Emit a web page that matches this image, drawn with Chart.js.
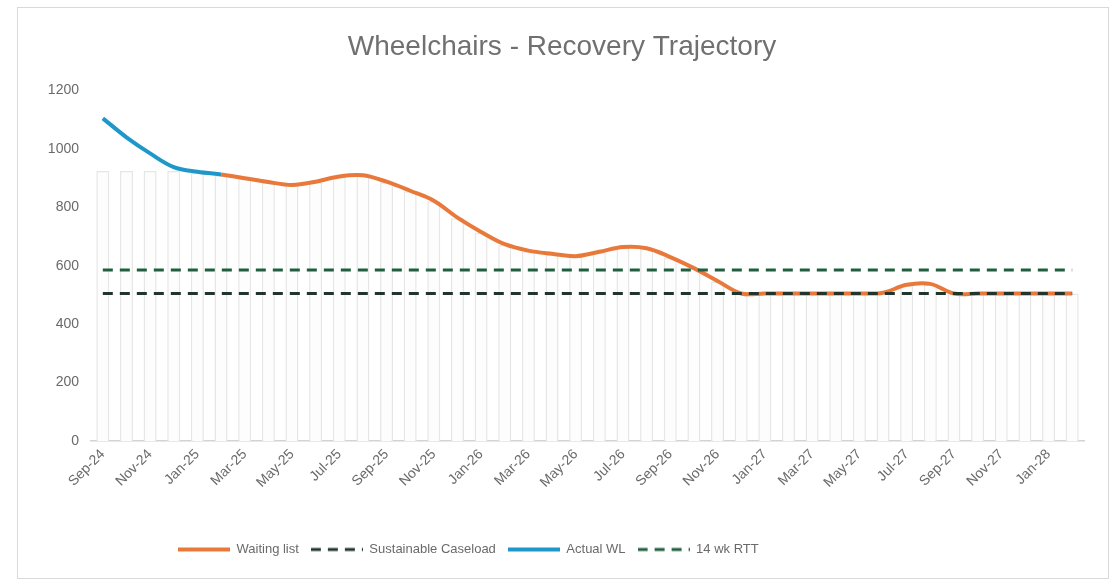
<!DOCTYPE html>
<html>
<head>
<meta charset="utf-8">
<title>Wheelchairs - Recovery Trajectory</title>
<script src="https://cdn.jsdelivr.net/npm/chart.js@4/dist/chart.umd.min.js"></script>
<style>
  html, body { margin: 0; padding: 0; background: #ffffff; }
  #frame { position: absolute; left: 17px; top: 7px; width: 1090px; height: 570px; border: 1px solid #d9d9d9; }
  canvas { display: block; }
</style>
</head>
<body>
<div id="frame"><canvas id="chart" width="1090" height="570"></canvas></div>
<script>
// Monthly categories, Sep-24 to Feb-28
const months = [
  'Sep-24','Oct-24','Nov-24','Dec-24','Jan-25','Feb-25','Mar-25','Apr-25','May-25','Jun-25',
  'Jul-25','Aug-25','Sep-25','Oct-25','Nov-25','Dec-25','Jan-26','Feb-26','Mar-26','Apr-26',
  'May-26','Jun-26','Jul-26','Aug-26','Sep-26','Oct-26','Nov-26','Dec-26','Jan-27','Feb-27',
  'Mar-27','Apr-27','May-27','Jun-27','Jul-27','Aug-27','Sep-27','Oct-27','Nov-27','Dec-27',
  'Jan-28','Feb-28'
];

// Recorded waiting list
const actualWL = [
  1105, 1040, 985, 938, 922, 913, null, null, null, null,
  null, null, null, null, null, null, null, null, null, null,
  null, null, null, null, null, null, null, null, null, null,
  null, null, null, null, null, null, null, null, null, null,
  null, null
];

// Projected waiting list
const waitingList = [
  null, null, null, null, null, 913, 900, 887, 877, 888,
  906, 910, 888, 857, 823, 765, 716, 674, 652, 641,
  633, 648, 664, 660, 630, 592, 548, 505, 505, 505,
  505, 505, 505, 508, 535, 538, 505, 505, 505, 505,
  505, 505
];

// Pale background columns
const columnBars = [
  925, 925, 925, 925, 920, 910, 898, 885, 875, 886,
  904, 908, 886, 855, 821, 763, 714, 672, 650, 639,
  631, 646, 662, 658, 628, 590, 546, 505, 505, 505,
  505, 505, 505, 506, 533, 536, 505, 505, 505, 505,
  505, 505
];

const sustainableCaseload = [
  505, 505, 505, 505, 505, 505, 505, 505, 505, 505,
  505, 505, 505, 505, 505, 505, 505, 505, 505, 505,
  505, 505, 505, 505, 505, 505, 505, 505, 505, 505,
  505, 505, 505, 505, 505, 505, 505, 505, 505, 505,
  505, 505
];

const rtt14wk = [
  586, 586, 586, 586, 586, 586, 586, 586, 586, 586,
  586, 586, 586, 586, 586, 586, 586, 586, 586, 586,
  586, 586, 586, 586, 586, 586, 586, 586, 586, 586,
  586, 586, 586, 586, 586, 586, 586, 586, 586, 586,
  586, 586
];

const yTickValues = [0, 200, 400, 600, 800, 1000, 1200];

const FONT = "'Liberation Sans', Arial, sans-serif";
const TEXT = '#6a6a6a';
const SWATCH_W = 52;

// Small line sample used as a legend marker (keeps dash patterns)
function lineSwatch(color, width, dash) {
  const c = document.createElement('canvas');
  c.width = SWATCH_W;
  c.height = 6;
  const g = c.getContext('2d');
  g.strokeStyle = color;
  g.lineWidth = width;
  g.setLineDash(dash || []);
  g.beginPath();
  g.moveTo(0, 3);
  g.lineTo(SWATCH_W, 3);
  g.stroke();
  return c;
}

// Nudges the title and legend boxes sideways after layout
const boxShift = {
  id: 'boxShift',
  afterLayout(chart, args, opts) {
    const lg = chart.legend;
    if (lg) { lg.left += opts.legend; lg.right += opts.legend; }
    const tt = chart.titleBlock;
    if (tt) { tt.left += opts.title; tt.right += opts.title; }
  }
};

new Chart(document.getElementById('chart'), {
  type: 'line',
  data: {
    labels: months,
    datasets: [
      {
        type: 'bar',
        label: 'columns',
        data: columnBars,
        backgroundColor: '#fdfdfd',
        borderColor: '#e6e6e6',
        borderWidth: 1.5,
        categoryPercentage: 0.55,
        barPercentage: 1,
        order: 5
      },
      {
        label: 'Waiting list',
        data: waitingList,
        borderColor: '#e8793a',
        backgroundColor: '#e8793a',
        borderWidth: 4,
        pointRadius: 0,
        tension: 0.35,
        order: 4
      },
      {
        label: 'Sustainable Caseload',
        data: sustainableCaseload,
        borderColor: '#22352c',
        backgroundColor: '#22352c',
        borderWidth: 3,
        borderDash: [10, 7],
        pointRadius: 0,
        order: 3
      },
      {
        label: 'Actual WL',
        data: actualWL,
        borderColor: '#1f97c8',
        backgroundColor: '#1f97c8',
        borderWidth: 4,
        pointRadius: 0,
        tension: 0.35,
        order: 2
      },
      {
        label: '14 wk RTT',
        data: rtt14wk,
        borderColor: '#1f5e3f',
        backgroundColor: '#1f5e3f',
        borderWidth: 3,
        borderDash: [10, 7],
        pointRadius: 0,
        order: 1
      }
    ]
  },
  options: {
    responsive: false,
    animation: false,
    devicePixelRatio: 1,
    layout: { padding: { left: 0, right: 24, top: 0, bottom: 12 } },
    scales: {
      x: {
        offset: true,
        grid: { display: false, drawTicks: false },
        border: { display: true, color: '#d3d3d3', width: 1.5 },
        ticks: {
          autoSkip: false,
          minRotation: 45,
          maxRotation: 45,
          padding: 5,
          color: TEXT,
          font: { family: FONT, size: 14 },
          callback: (value, index) => (index % 2 === 0 ? months[index] : '')
        },
        afterFit: (scale) => { scale.height = 90; }
      },
      y: {
        min: 0,
        max: 1200,
        grid: { display: false, drawTicks: false },
        border: { display: false },
        afterBuildTicks: (scale) => { scale.ticks = yTickValues.map(v => ({ value: v })); },
        ticks: {
          padding: 12,
          color: TEXT,
          font: { family: FONT, size: 14 },
          callback: (value) => String(value)
        },
        afterFit: (scale) => { scale.width = 73; }
      }
    },
    plugins: {
      title: {
        display: true,
        text: 'Wheelchairs - Recovery Trajectory',
        color: '#707070',
        font: { family: FONT, size: 28, weight: 'normal' },
        padding: { top: 22, bottom: 27 }
      },
      legend: {
        position: 'bottom',
        align: 'start',
        labels: {
          usePointStyle: true,
          pointStyleWidth: SWATCH_W,
          padding: 12,
          color: TEXT,
          font: { family: FONT, size: 13 },
          filter: (item) => item.datasetIndex !== 0,
          sort: (a, b) => a.datasetIndex - b.datasetIndex,
          generateLabels: (chart) => {
            const items = Chart.defaults.plugins.legend.labels.generateLabels(chart);
            items.forEach((it) => {
              const ds = chart.data.datasets[it.datasetIndex];
              it.pointStyle = lineSwatch(ds.borderColor, ds.borderWidth, ds.borderDash);
            });
            return items;
          }
        }
      },
      boxShift: { legend: 148, title: 11 },
      tooltip: { enabled: false }
    }
  },
  plugins: [boxShift]
});
</script>
</body>
</html>
